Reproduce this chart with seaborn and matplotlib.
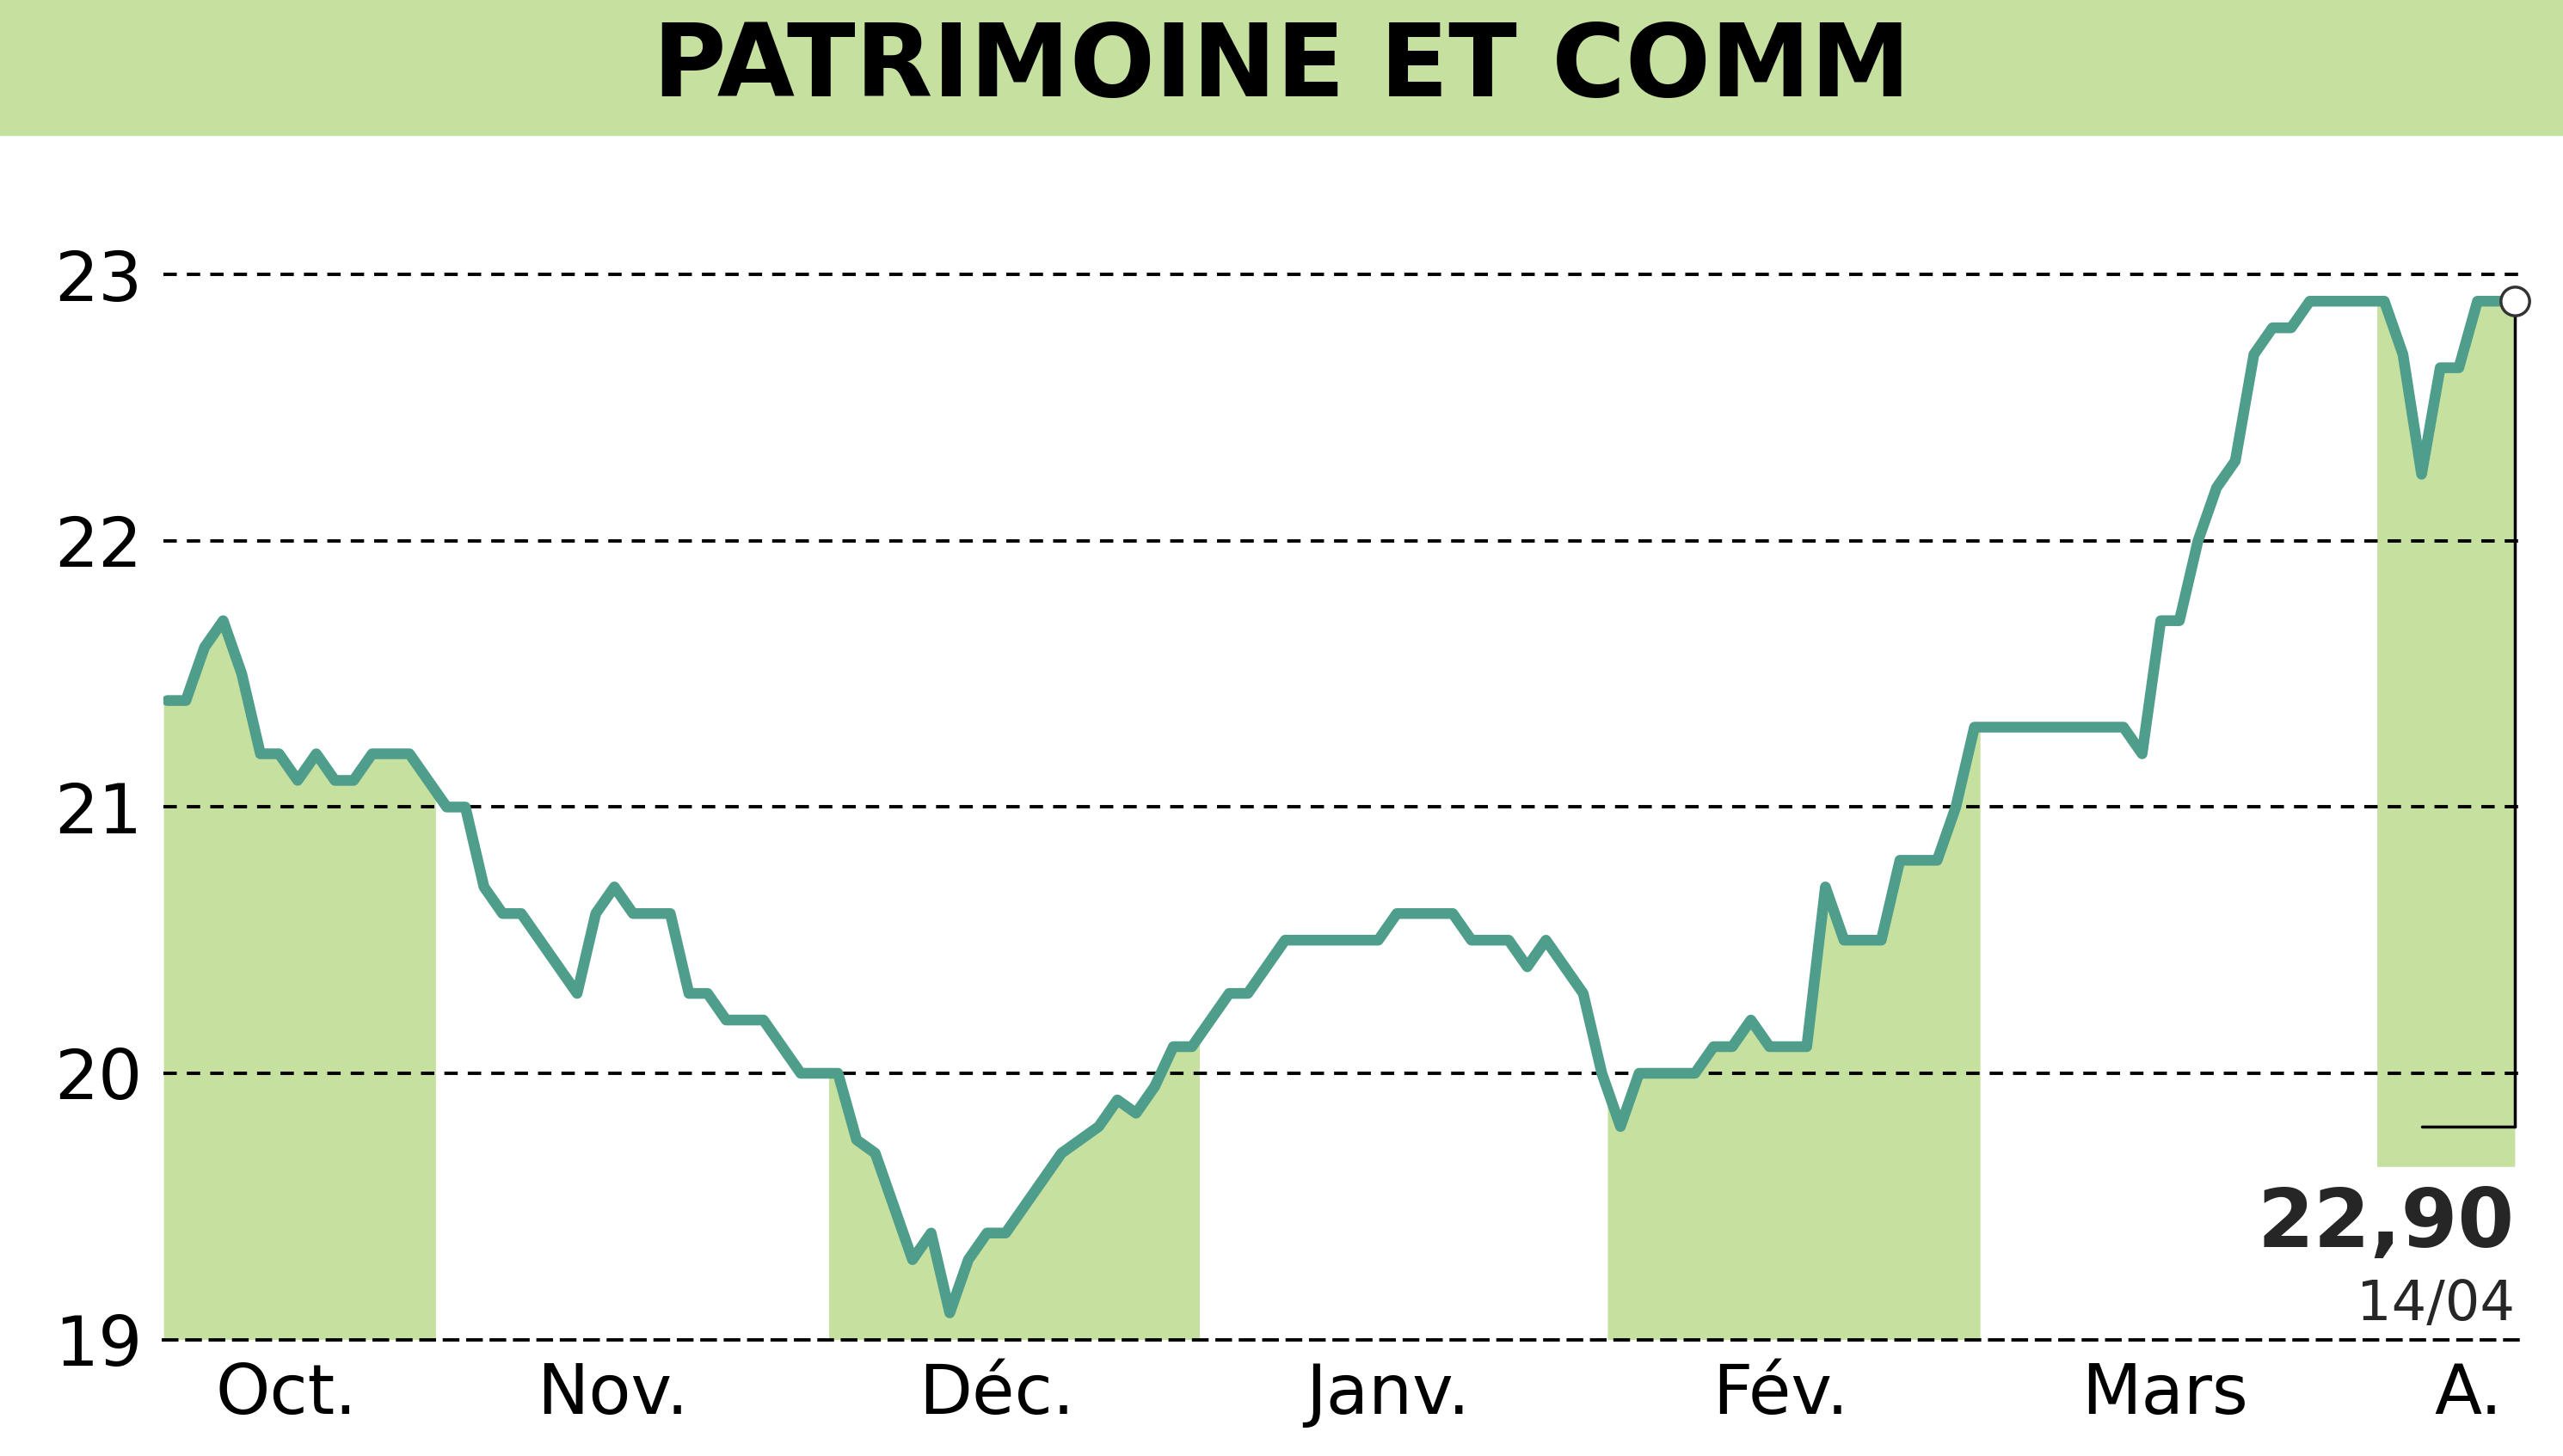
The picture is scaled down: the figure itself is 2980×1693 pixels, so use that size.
import numpy as np
import pandas as pd
import seaborn as sns
import matplotlib.pyplot as plt

# price series (one value per trading day)
prices = [21.4, 21.4, 21.6, 21.7, 21.5, 21.2, 21.2, 21.1, 21.2, 21.1, 21.1, 21.2, 21.2, 21.2, 21.1,
          21.0, 21.0, 20.7, 20.6, 20.6, 20.5, 20.4, 20.3, 20.6, 20.7, 20.6, 20.6, 20.6, 20.3, 20.3,
          20.2, 20.2, 20.2, 20.1, 20.0, 20.0, 20.0,
          19.75, 19.7, 19.5, 19.3, 19.4, 19.1, 19.3, 19.4, 19.4, 19.5, 19.6, 19.7, 19.75, 19.8,
          19.9, 19.85, 19.95, 20.1, 20.1,
          20.2, 20.3, 20.3, 20.4, 20.5, 20.5, 20.5, 20.5, 20.5, 20.5, 20.6, 20.6, 20.6, 20.6,
          20.5, 20.5, 20.5, 20.4, 20.5, 20.4, 20.3, 20.0,
          19.8, 20.0, 20.0, 20.0, 20.0, 20.1, 20.1, 20.2, 20.1, 20.1, 20.1, 20.7, 20.5, 20.5,
          20.5, 20.8, 20.8, 20.8, 21.0, 21.3,
          21.3, 21.3, 21.3, 21.3, 21.3, 21.3, 21.3, 21.3, 21.2, 21.7, 21.7, 22.0, 22.2, 22.3,
          22.7, 22.8, 22.8, 22.9, 22.9, 22.9, 22.9, 22.9,
          22.7, 22.25, 22.65, 22.65, 22.9, 22.9, 22.9]
month_labels = ["Oct.", "Nov.", "Déc.", "Janv.", "Fév.", "Mars", "A."]
month_centers = [6.4, 23.9, 44.5, 65.5, 86.6, 107.2, 123.5]
shaded_months = [(-0.2, 14.4), (35.5, 55.4), (77.3, 97.3), (118.6, 126)]
yticks = [19, 20, 21, 22, 23]
title = "PATRIMOINE ET COMM"
last_value = "22,90"
last_date = "14/04"

df = pd.DataFrame({"day": np.arange(len(prices)), "price": prices})
n = len(prices) - 1

sns.set_style("white")
plt.rcParams['font.family'] = ['DejaVu Sans']

green = "#c6e19f"
line_c = "#4f9d8b"

fig = plt.figure(figsize=(29.8, 16.93), dpi=100)
fig.patches.append(plt.Rectangle((0, 0.907), 1, 0.093, transform=fig.transFigure,
                                 color=green, zorder=0))
fig.text(0.5, 0.953, title, ha="center", va="center", fontsize=84,
         fontweight="bold", color="black")

ax = fig.add_axes([0.0638, 0.080, 0.921, 0.768])
for i, (a, b) in enumerate(shaded_months):
    bottom = 19.65 if i == len(shaded_months) - 1 else 19
    m = (df.day >= a - 0.5) & (df.day <= b + 0.5)
    xs = np.clip(df.day[m].to_numpy(dtype=float), a, b)
    ys = np.interp(xs, df.day, df.price)
    xs = np.concatenate([[a], xs, [b]])
    ys = np.concatenate([[np.interp(a, df.day, df.price)], ys, [np.interp(b, df.day, df.price)]])
    ax.fill_between(xs, bottom, ys, color=green, lw=0, zorder=1)

for y in yticks[1:]:
    ax.axhline(y, color="black", ls=(0, (4, 3)), lw=2.8, zorder=2)

sns.lineplot(data=df, x="day", y="price", ax=ax, color=line_c, lw=9, zorder=3)
ax.plot([n], [prices[-1]], "o", ms=24, mfc="white", mec="#333333", mew=2.5, zorder=4, clip_on=False)
ax.plot([n, n], [prices[-1], 19.8], color="black", lw=2.5, zorder=2)
ax.plot([n - 5, n], [19.8, 19.8], color="black", lw=2.5, zorder=2)
ax.text(n, 19.43, last_value, ha="right", va="center", fontsize=68, fontweight="bold")
ax.text(n, 19.13, last_date, ha="right", va="center", fontsize=46)

ax.set_xlim(-0.2, n + 0.5)
ax.set_ylim(19, 23.2)
ax.set_yticks(yticks)
ax.set_yticklabels([str(v) for v in yticks], fontsize=58)
ax.set_xticks(month_centers)
ax.set_xticklabels(month_labels, fontsize=58)
ax.tick_params(length=0, pad=18, colors="black")
ax.set_xlabel("")
ax.set_ylabel("")
for s in ["top", "right", "left"]:
    ax.spines[s].set_visible(False)
ax.spines["bottom"].set_color("black")
ax.spines["bottom"].set_linewidth(2.8)
ax.spines["bottom"].set_linestyle((0, (4, 3)))

fig.savefig("out.png", dpi=100)
